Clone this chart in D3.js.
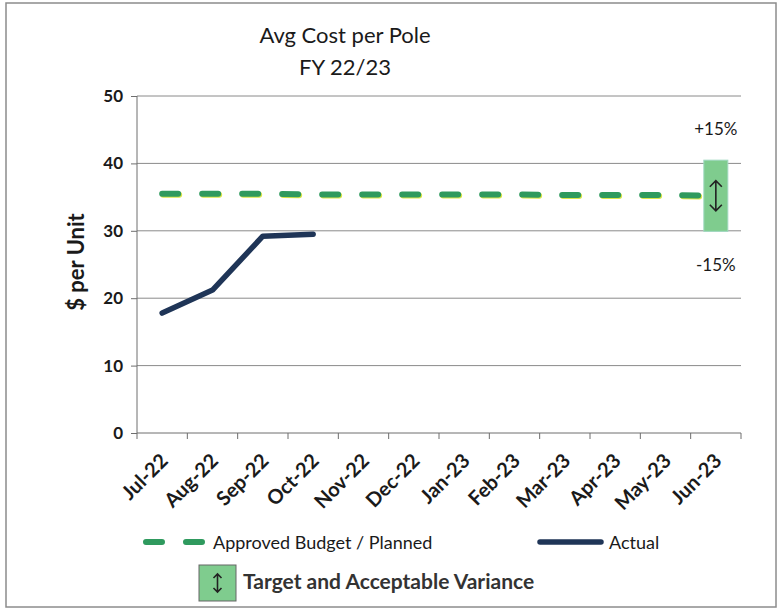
<!DOCTYPE html>
<html lang="en">
    <head>
        <meta charset="utf-8">
        <title>Avg Cost per Pole</title>
        <script src="https://d3js.org/d3.v7.min.js"></script>
        <style>
            body {
                margin: 0;
                background: white;
            }
            text {
                font-family: Lato, "Open Sans", sans-serif;
                fill: #1a1a1a;
            }
            .grid line {
                stroke: #8a8a8a;
                stroke-width: 1;
            }
            .axis path,
            .axis line {
                fill: none;
                stroke: #6e6e6e;
            }
            .axis text {
                font-size: 17px;
                font-weight: bold;
            }
            .axis text.xlab {
                font-size: 20px;
            }
        </style>
    </head>
    <body>
        <div id="chart"></div>
        <script type="text/javascript">
            // data
            var months = ["Jul-22","Aug-22","Sep-22","Oct-22","Nov-22","Dec-22","Jan-23","Feb-23","Mar-23","Apr-23","May-23","Jun-23"];
            var budget = [35.5,35.5,35.5,35.4,35.4,35.4,35.4,35.4,35.3,35.3,35.3,35.2];
            var actual = [17.8,21.2,29.2,29.5];
            var yTicks = [0,10,20,30,40,50];
            var variancePct = 0.15;

            // window
            var w = 780;
            var h = 614;
            var pLeft = 137, pRight = 741, pTop = 96, pBottom = 433;

            var svg = d3.select("#chart").append("svg").attr("width",w).attr("height",h);

            // outer frame
            svg.append("rect").attr("x",6).attr("y",3).attr("width",770).attr("height",604)
                .attr("fill","none").attr("stroke","#8c8c8c").attr("stroke-width",1.5);

            // scales
            var xScale = d3.scaleBand().domain(months).range([pLeft,pRight]);
            var yScale = d3.scaleLinear().domain([0,50]).range([pBottom,pTop]);
            var xc = function(d,i) { return xScale(months[i]) + xScale.bandwidth()/2; };

            // gridlines
            svg.append("g").attr("class","grid").selectAll("line").data(yTicks.slice(1)).enter()
                .append("line").attr("x1",pLeft).attr("x2",pRight)
                .attr("y1",function(d) { return yScale(d); }).attr("y2",function(d) { return yScale(d); });

            // y axis
            var yAxis = svg.append("g").attr("class","axis").attr("transform","translate("+pLeft+",0)")
                .call(d3.axisLeft(yScale).tickValues(yTicks).tickSize(6).tickPadding(8));
            yAxis.select(".domain").attr("d","M0,"+pTop+"V"+pBottom);

            // x axis, ticks on category boundaries
            var xAxis = svg.append("g").attr("class","axis").attr("transform","translate(0,"+pBottom+")");
            xAxis.append("line").attr("x1",pLeft).attr("x2",pRight).attr("y1",0).attr("y2",0);
            xAxis.selectAll("line.tick").data(d3.range(months.length+1)).enter()
                .append("line").attr("class","tick")
                .attr("x1",function(d) { return pLeft + d*xScale.bandwidth(); })
                .attr("x2",function(d) { return pLeft + d*xScale.bandwidth(); })
                .attr("y1",0).attr("y2",6);
            xAxis.selectAll("text").data(months).enter().append("text")
                .attr("class","xlab").attr("text-anchor","end")
                .attr("transform",function(d,i) { return "translate("+(xc(d,i)+7)+",29) rotate(-45)"; })
                .text(function(d) { return d; });

            // y title
            svg.append("text").attr("transform","translate(84,262) rotate(-90)")
                .attr("text-anchor","middle").style("font-size","22px").style("font-weight","bold")
                .text("$ per Unit");

            // title
            svg.append("text").attr("x",345).attr("y",43).attr("text-anchor","middle")
                .style("font-size","22px").text("Avg Cost per Pole");
            svg.append("text").attr("x",345).attr("y",75).attr("text-anchor","middle")
                .style("font-size","22px").text("FY 22/23");

            // budget line (dashed)
            var line = d3.line().x(xc).y(function(d) { return yScale(d); });
            svg.append("path").datum(budget).attr("d",line).attr("fill","none")
                .attr("stroke","#d9e64a").attr("stroke-width",6).attr("stroke-linecap","round")
                .attr("stroke-dasharray","16,24").attr("transform","translate(1,1)");
            svg.append("path").datum(budget).attr("d",line).attr("fill","none")
                .attr("stroke","#2f9a5e").attr("stroke-width",6).attr("stroke-linecap","round")
                .attr("stroke-dasharray","16,24");

            // actual line
            svg.append("path").datum(actual).attr("d",line).attr("fill","none")
                .attr("stroke","#1f3557").attr("stroke-width",5.5)
                .attr("stroke-linecap","round").attr("stroke-linejoin","round");

            // variance band at last month
            var last = budget.length-1;
            var bx = xc(null,last);
            var hi = budget[last]*(1+variancePct), lo = budget[last]*(1-variancePct);
            svg.append("rect").attr("x",bx-12).attr("width",24)
                .attr("y",yScale(hi)).attr("height",yScale(lo)-yScale(hi))
                .attr("fill","#7fcc8e").attr("stroke","#9fd8c0").attr("stroke-width",1);
            function arrow(g,cx,y1,y2,head) {
                g.append("path").attr("d","M"+cx+","+y1+"V"+y2+
                    "M"+(cx-head)+","+(y1+head)+"L"+cx+","+y1+"L"+(cx+head)+","+(y1+head)+
                    "M"+(cx-head)+","+(y2-head)+"L"+cx+","+y2+"L"+(cx+head)+","+(y2-head))
                    .attr("fill","none").attr("stroke","#222").attr("stroke-width",1.6);
            }
            var my = yScale(budget[last]);
            arrow(svg,bx,my-15,my+15,6);
            svg.append("text").attr("x",bx).attr("y",yScale(hi)-25).attr("text-anchor","middle")
                .style("font-size","17px").text("+" + Math.round(variancePct*100) + "%");
            svg.append("text").attr("x",bx).attr("y",yScale(lo)+40).attr("text-anchor","middle")
                .style("font-size","17px").text("-" + Math.round(variancePct*100) + "%");

            // legend
            var lg = svg.append("g");
            lg.append("line").attr("x1",146).attr("x2",203).attr("y1",542).attr("y2",542)
                .attr("stroke","#2f9a5e").attr("stroke-width",6).attr("stroke-linecap","round")
                .attr("stroke-dasharray","16,24");
            lg.append("text").attr("x",213).attr("y",549).style("font-size","18px").text("Approved Budget / Planned");
            lg.append("line").attr("x1",540).attr("x2",601).attr("y1",542).attr("y2",542)
                .attr("stroke","#1f3557").attr("stroke-width",5.5).attr("stroke-linecap","round");
            lg.append("text").attr("x",609).attr("y",549).style("font-size","18px").text("Actual");
            lg.append("rect").attr("x",199).attr("y",565).attr("width",37).attr("height",36)
                .attr("fill","#7fcc8e").attr("stroke","#666").attr("stroke-width",1);
            arrow(lg,217.5,574,592,4);
            lg.append("text").attr("x",243).attr("y",589).style("font-size","21px").style("font-weight","bold")
                .style("fill","#333").text("Target and Acceptable Variance");
        </script>
    </body>
</html>
